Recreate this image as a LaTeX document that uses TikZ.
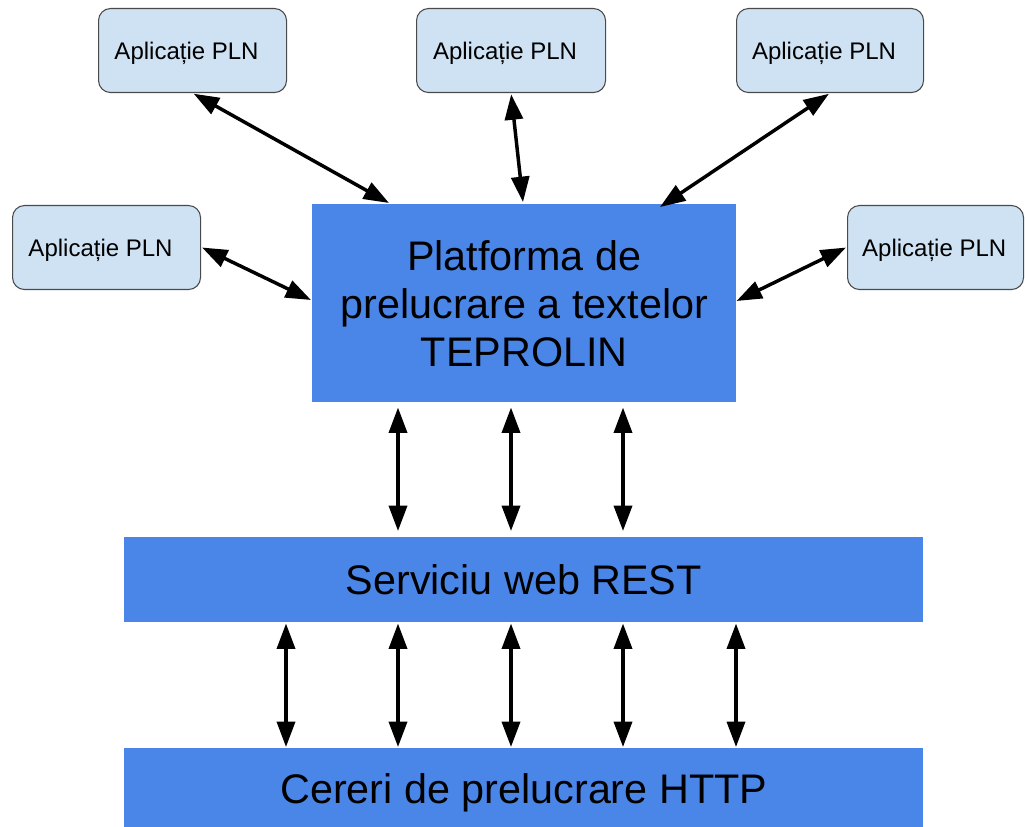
\documentclass[tikz,border=0pt]{standalone}
\usepackage{fontspec}
\setmainfont{Liberation Sans}
\usetikzlibrary{arrows.meta,calc}
\definecolor{mainblue}{HTML}{4A86E8}
\definecolor{appfill}{HTML}{CFE2F3}
\definecolor{appborder}{HTML}{4A4A4A}
\tikzset{
  appbox/.style={draw=appborder, line width=0.8pt, fill=appfill, rounded corners=9pt,
    minimum width=141pt, minimum height=63pt, inner sep=0pt, anchor=north west,
    text depth=0pt, font=\fontsize{18}{21}\selectfont},
  bigbox/.style={fill=mainblue, inner sep=0pt, anchor=north west,
    font=\fontsize{31}{36}\selectfont, align=center},
  arr/.style={line width=2.6pt, {Triangle[length=19pt,width=13.5pt]}-{Triangle[length=19pt,width=13.5pt]}},
}
\newcommand{\apptext}{Aplicație PLN\hspace*{9pt}}
\begin{document}
\begin{tikzpicture}[x=0.75pt,y=-0.75pt]
\useasboundingbox (0,0) rectangle (1025,827);
\clip (0,0) rectangle (1025,827);
% boxes
\node[appbox, minimum width=141pt] (tl) at (98,8) {\apptext};
\node[appbox, minimum width=141.75pt] (tm) at (416,8) {\apptext};
\node[appbox, minimum width=140.25pt] (tr) at (736,8) {\apptext};
\node[appbox, minimum width=141pt] (ml) at (12,205) {\apptext};
\node[appbox, minimum width=132pt] (mr) at (847,205) {Aplicație PLN\hspace*{2pt}};
\node[bigbox, minimum width=318pt, minimum height=148.5pt] (main) at (312,204)
  {Platforma de\\prelucrare a textelor\\TEPROLIN};
\node[bigbox, minimum width=599.25pt, minimum height=63.75pt] (rest) at (124,537)
  {Serviciu web REST};
\node[bigbox, minimum width=599.25pt, minimum height=67.5pt] (http) at (124,748)
  {Cereri de prelucrare HTTP};
% column coordinates
\coordinate (c1) at (286,0);
\coordinate (c2) at (398,0);
\coordinate (c3) at (511,0);
\coordinate (c4) at (623,0);
\coordinate (c5) at (736,0);
% top arrows
\draw[arr, shorten <=1pt] (tl.south) -- ($(main.north west)+(77,-1)$);
\draw[arr, shorten <=1pt] (tm.south) -- ($(main.north west)+(211,-2)$);
\draw[arr, shorten <=1pt] (tr.south) -- ($(main.north west)+(348,3)$);
\draw[arr] ($(ml.east)+(1,0)$) -- ($(main.north west)+(-1,96)$);
\draw[arr] ($(mr.west)+(-1,0)$) -- ($(main.north east)+(0,97)$);
% main <-> REST
\foreach \c in {c2,c3,c4}
  \draw[arr, shorten <=3.75pt, shorten >=4.5pt] (main.south -| \c) -- (rest.north -| \c);
% REST <-> HTTP
\foreach \c in {c1,c2,c3,c4,c5}
  \draw[arr, shorten <=0.75pt, shorten >=0.75pt] (rest.south -| \c) -- (http.north -| \c);
\end{tikzpicture}
\end{document}
